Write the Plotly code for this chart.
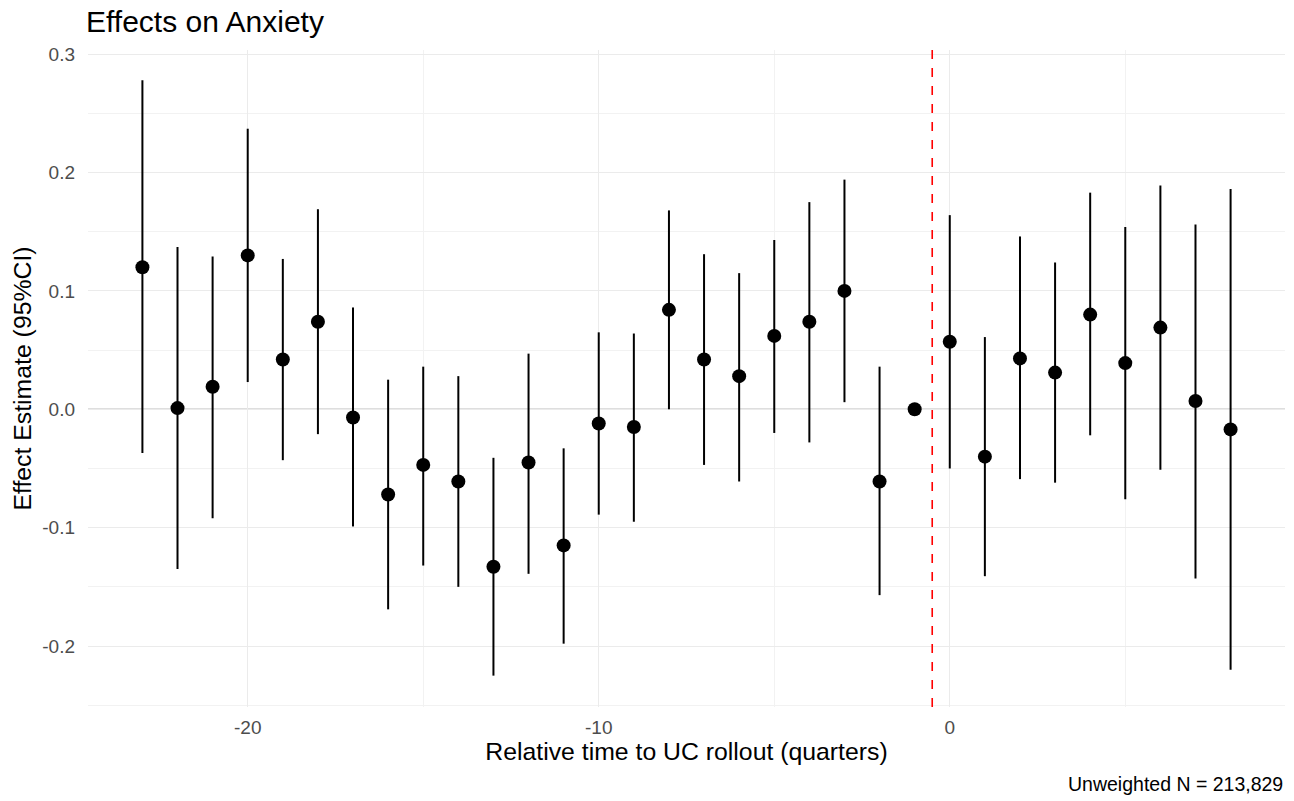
import plotly.graph_objects as go

rel_time = [-23, -22, -21, -20, -19, -18, -17, -16, -15, -14, -13, -12, -11, -10, -9, -8,
            -7, -6, -5, -4, -3, -2, -1, 0, 1, 2, 3, 4, 5, 6, 7, 8]
estimate = [0.120, 0.001, 0.019, 0.130, 0.042, 0.074, -0.007, -0.072, -0.047, -0.061, -0.133,
            -0.045, -0.115, -0.012, -0.015, 0.084, 0.042, 0.028, 0.062, 0.074, 0.100, -0.061,
            0.000, 0.057, -0.040, 0.043, 0.031, 0.080, 0.039, 0.069, 0.007, -0.017]
ci_upper = [0.278, 0.137, 0.129, 0.237, 0.127, 0.169, 0.086, 0.025, 0.036, 0.028, -0.041,
            0.047, -0.033, 0.065, 0.064, 0.168, 0.131, 0.115, 0.143, 0.175, 0.194, 0.036,
            None, 0.164, 0.061, 0.146, 0.124, 0.183, 0.154, 0.189, 0.156, 0.186]
ci_lower = [-0.037, -0.135, -0.092, 0.023, -0.043, -0.021, -0.099, -0.169, -0.132, -0.150, -0.225,
            -0.139, -0.198, -0.089, -0.095, 0.000, -0.047, -0.061, -0.020, -0.028, 0.006, -0.157,
            None, -0.050, -0.141, -0.059, -0.062, -0.022, -0.076, -0.051, -0.143, -0.220]
x_ticks = [-20, -10, 0]
y_ticks = [-0.2, -0.1, 0.0, 0.1, 0.2, 0.3]
y_tick_text = ["-0.2", "-0.1", "0.0", "0.1", "0.2", "0.3"]

err_plus = [(u - e) if u is not None else 0 for u, e in zip(ci_upper, estimate)]
err_minus = [(e - l) if l is not None else 0 for l, e in zip(ci_lower, estimate)]

FONT = "Liberation Sans, Arial, sans-serif"

fig = go.Figure()
fig.add_trace(go.Scatter(
    x=rel_time, y=estimate, mode="markers",
    marker=dict(color="black", size=14),
    error_y=dict(type="data", symmetric=False, array=err_plus, arrayminus=err_minus,
                 color="black", thickness=2, width=0),
    showlegend=False,
))

fig.add_hline(y=0, line=dict(color="#BEBEBE", width=1.6), layer="below")
fig.add_vline(x=-0.5, line=dict(color="#FF0000", width=1.6, dash="dash"))

fig.update_layout(
    width=1294, height=801,
    margin=dict(l=88, r=9, t=50, b=94),
    paper_bgcolor="white", plot_bgcolor="white",
    font=dict(family=FONT, color="black"),
    title=dict(text="Effects on Anxiety", x=86/1294, xanchor="left", y=0.973, yanchor="middle",
               font=dict(size=30, color="black")),
    annotations=[dict(text="Unweighted N = 213,829", xref="paper", yref="paper",
                      x=1, y=-0.098, xanchor="right", yanchor="top", showarrow=False,
                      font=dict(size=19.5, color="black"))],
)
fig.update_xaxes(
    range=[-24.55, 9.55], tickvals=x_ticks, ticktext=[str(v) for v in x_ticks],
    showgrid=True, gridcolor="#EBEBEB", gridwidth=1.3,
    minor=dict(tickvals=[-15, -5, 5], showgrid=True, gridcolor="#F2F2F2", gridwidth=0.7),
    zeroline=False, showline=False, ticks="",
    tickfont=dict(size=19, color="#4D4D4D"), ticklabelstandoff=7,
    title=dict(text="Relative time to UC rollout (quarters)", font=dict(size=24.8, color="black"),
               standoff=5),
)
fig.update_yaxes(
    range=[-0.2515, 0.3035], tickvals=y_ticks, ticktext=y_tick_text,
    showgrid=True, gridcolor="#EBEBEB", gridwidth=1.3,
    minor=dict(tickvals=[-0.25, -0.15, -0.05, 0.05, 0.15, 0.25], showgrid=True,
               gridcolor="#F2F2F2", gridwidth=0.7),
    zeroline=False, showline=False, ticks="",
    tickfont=dict(size=19, color="#4D4D4D"), ticklabelstandoff=12,
    title=dict(text="Effect Estimate (95%CI)", font=dict(size=24.8, color="black"), standoff=3),
)

fig.write_html("out.html")
